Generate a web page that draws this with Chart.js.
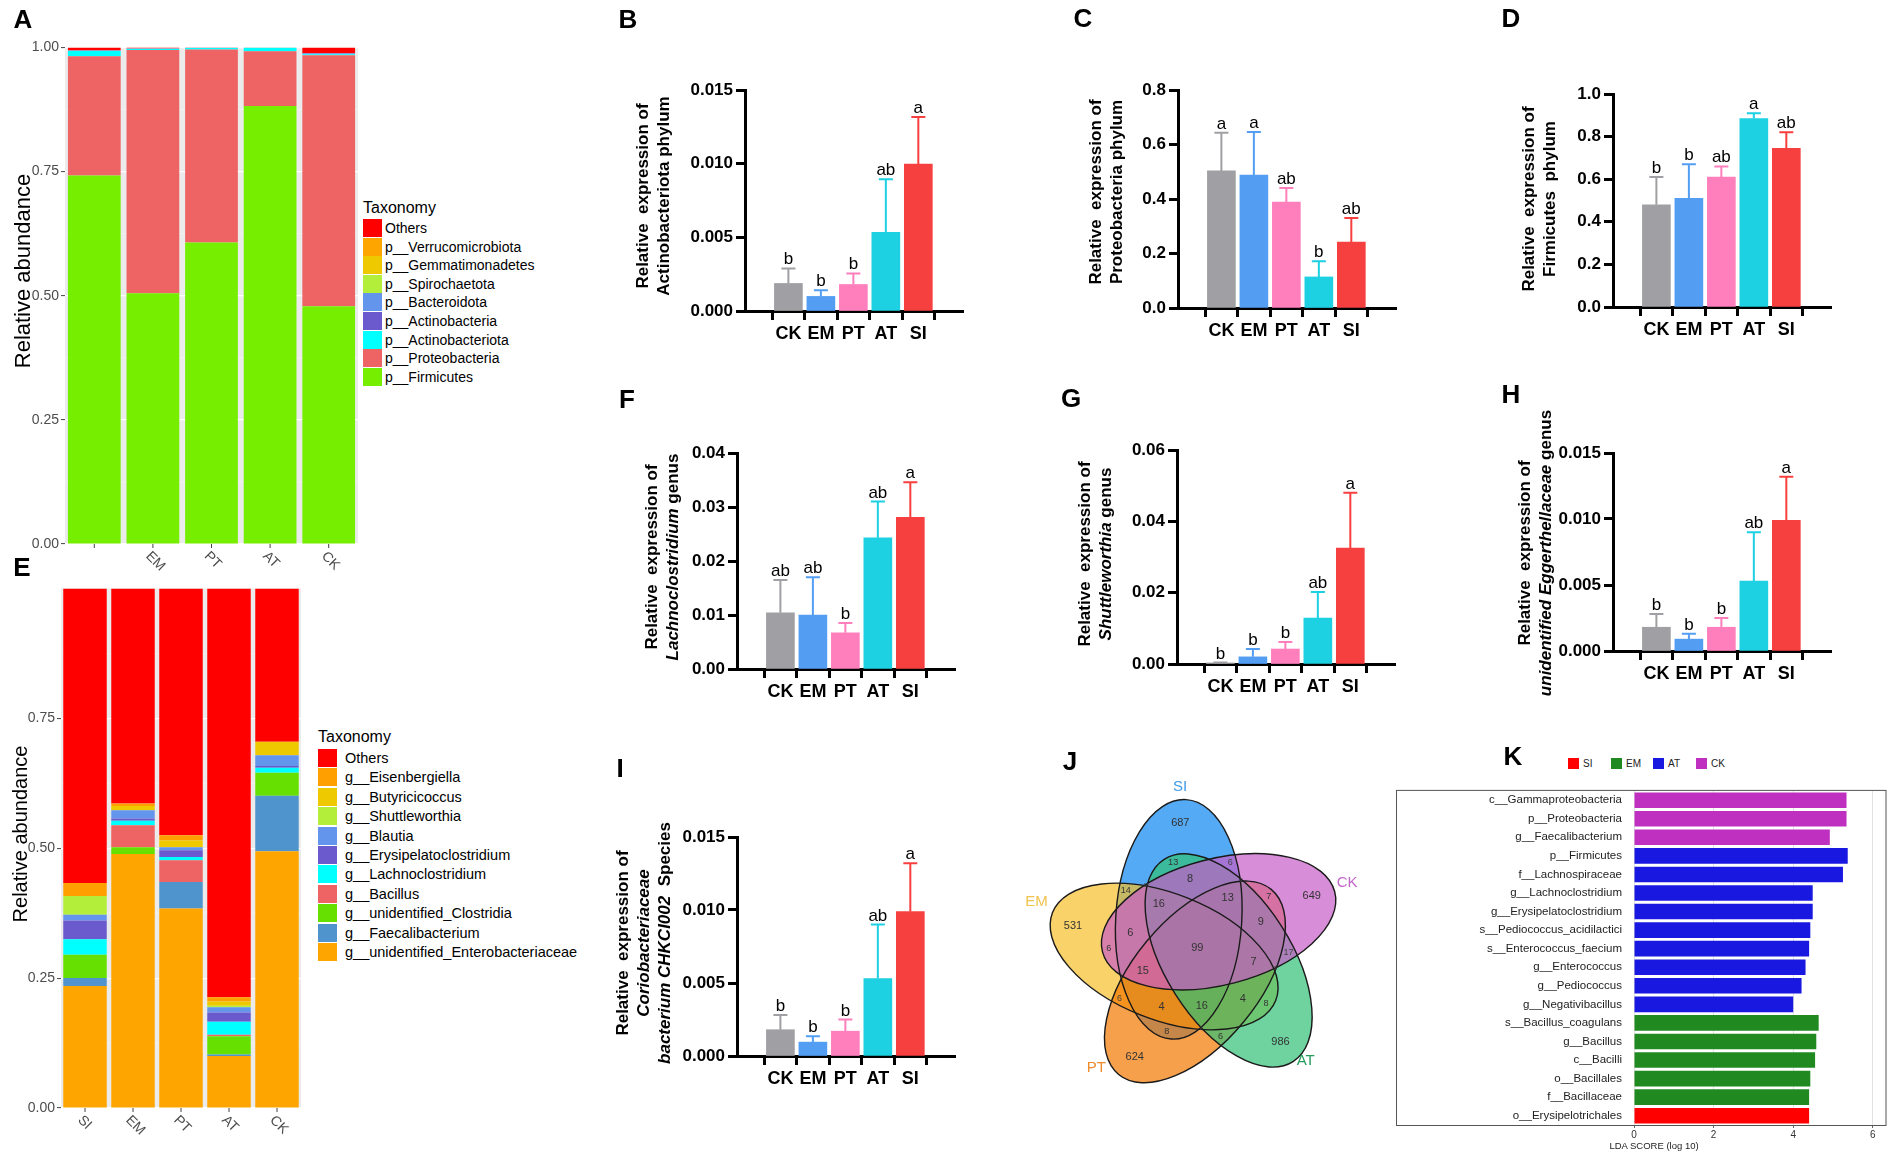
<!DOCTYPE html>
<html><head><meta charset="utf-8">
<script src="https://cdn.jsdelivr.net/npm/chart.js@4.4.1/dist/chart.umd.min.js"></script>
<style>
html,body{margin:0;padding:0;background:#fff;}
body{width:1902px;height:1159px;position:relative;overflow:hidden;font-family:"Liberation Sans",Arial,Helvetica,sans-serif;color:#000;}
canvas{position:absolute;}
.plab{position:absolute;font-weight:bold;font-size:26px;transform:translate(-50%,-50%);line-height:1;}
.ytitle{position:absolute;transform:translate(-50%,-50%) rotate(-90deg);font-weight:bold;font-size:17px;text-align:center;line-height:21px;white-space:pre;}
.yab{position:absolute;transform:translate(-50%,-50%) rotate(-90deg);white-space:pre;line-height:1;}
.sw{position:absolute;}
.lt{position:absolute;transform:translateY(-50%);white-space:pre;line-height:1;}
</style></head><body>
<script>
// ---------------- DATA ----------------
const groups = ['CK','EM','PT','AT','SI'];
const groupColors = ['#a0a0a4','#539ef3','#ff7fbd','#1dd0e2','#f6403f'];

// B Actinobacteriota
const actinoMean = [0.00187,0.00099,0.00180,0.00534,0.00997];
const actinoErr  = [0.00102,0.00041,0.00075,0.00360,0.00320];
const actinoSig  = ['b','b','b','ab','a'];
const actinoTicks = [0,0.005,0.010,0.015];
const actinoTickLabels = ['0.000','0.005','0.010','0.015'];
// C Proteobacteria
const proteoMean = [0.503,0.488,0.389,0.114,0.242];
const proteoErr  = [0.140,0.158,0.051,0.058,0.088];
const proteoSig  = ['a','a','ab','b','ab'];
const proteoTicks = [0,0.2,0.4,0.6,0.8];
const proteoTickLabels = ['0.0','0.2','0.4','0.6','0.8'];
// D Firmicutes
const firmiMean = [0.48,0.51,0.61,0.885,0.745];
const firmiErr  = [0.13,0.16,0.05,0.025,0.075];
const firmiSig  = ['b','b','ab','a','ab'];
const firmiTicks = [0,0.2,0.4,0.6,0.8,1.0];
const firmiTickLabels = ['0.0','0.2','0.4','0.6','0.8','1.0'];
// F Lachnoclostridium
const lachMean = [0.0104,0.0100,0.0067,0.0243,0.0281];
const lachErr  = [0.0061,0.0070,0.0018,0.0067,0.0065];
const lachSig  = ['ab','ab','b','ab','a'];
const lachTicks = [0,0.01,0.02,0.03,0.04];
const lachTickLabels = ['0.00','0.01','0.02','0.03','0.04'];
// G Shuttleworthia
const shutMean = [0.0003,0.0020,0.0042,0.0129,0.0325];
const shutErr  = [0.0001,0.0022,0.0020,0.0073,0.0155];
const shutSig  = ['b','b','b','ab','a'];
const shutTicks = [0,0.02,0.04,0.06];
const shutTickLabels = ['0.00','0.02','0.04','0.06'];
// H unidentified Eggerthellaceae
const eggMean = [0.0018,0.0009,0.0018,0.0053,0.0099];
const eggErr  = [0.0010,0.0004,0.0007,0.0037,0.0033];
const eggSig  = ['b','b','b','ab','a'];
const eggTicks = [0,0.005,0.010,0.015];
const eggTickLabels = ['0.000','0.005','0.010','0.015'];
// I Coriobacteriaceae bacterium CHKCI002
const corioMean = [0.0018,0.00095,0.0017,0.0053,0.0099];
const corioErr  = [0.0010,0.0004,0.0008,0.0037,0.0033];
const corioSig  = ['b','b','b','ab','a'];
const corioTicks = [0,0.005,0.010,0.015];
const corioTickLabels = ['0.000','0.005','0.010','0.015'];

// A phylum stacked (order SI, EM, PT, AT, CK), bottom -> top
const stackGroups = ['SI','EM','PT','AT','CK'];
const phylumNames = ['p__Firmicutes','p__Proteobacteria','p__Actinobacteriota','p__Actinobacteria','p__Bacteroidota','p__Spirochaetota','p__Gemmatimonadetes','p__Verrucomicrobiota','Others'];
const phylumColors = ['#76ee00','#ee6363','#00ffff','#6a5acd','#6495ed','#b3ee3a','#eec900','#ffa500','#ff0000'];
const phylumFirmicutes      = [0.742,0.505,0.607,0.882,0.479];
const phylumProteobacteria  = [0.240,0.490,0.389,0.110,0.505];
const phylumActinobacteriota= [0.011,0.002,0.003,0.0075,0.002];
const phylumActinobacteria  = [0.0005,0.0005,0.0005,0.0003,0.001];
const phylumBacteroidota    = [0.0005,0.0005,0.0003,0.0002,0.001];
const phylumSpirochaetota   = [0.0001,0.0001,0.0001,0.0001,0.0001];
const phylumGemmatimonadetes= [0.0001,0.0001,0.0001,0.0001,0.0001];
const phylumVerrucomicrobiota=[0.0001,0.0001,0.0001,0.0001,0.0001];
const phylumOthers          = [0.0057,0.0017,0.0001,0.0000,0.0117];

// E genus stacked, bottom -> top
const genusNames = ['g__unidentified_Enterobacteriaceae','g__Faecalibacterium','g__unidentified_Clostridia','g__Bacillus','g__Lachnoclostridium','g__Erysipelatoclostridium','g__Blautia','g__Shuttleworthia','g__Butyricicoccus','g__Eisenbergiella','Others'];
const genusColors = ['#ffa500','#4f94cd','#66e000','#ee6363','#00ffff','#6a5acd','#6495ed','#b3ee3a','#eec900','#ffa000','#ff0000'];
const genusEntero     = [0.235,0.489,0.384,0.100,0.494];
const genusFaecali    = [0.015,0.000,0.051,0.003,0.107];
const genusClostridia = [0.045,0.013,0.000,0.035,0.044];
const genusBacillus   = [0.000,0.042,0.042,0.003,0.000];
const genusLachno     = [0.030,0.009,0.006,0.025,0.010];
const genusErysip     = [0.036,0.004,0.013,0.018,0.003];
const genusBlautia    = [0.011,0.016,0.006,0.010,0.021];
const genusShuttle    = [0.036,0.000,0.000,0.003,0.000];
const genusButyr      = [0.000,0.008,0.013,0.008,0.026];
const genusEisen      = [0.025,0.005,0.010,0.008,0.000];
const genusOthers     = [0.567,0.414,0.475,0.787,0.295];
const abTicks = [0,0.25,0.5,0.75,1.0];
const abTickLabels = ['0.00','0.25','0.50','0.75','1.00'];

// J Venn
const vennSets = ['SI','CK','AT','PT','EM'];
const vennFill = ['#0c86f1','#c85cc7','#31c076','#f47700','#f6bf2a'];
const vennText = ['#3d9be9','#c266c9','#259c5b','#f08a2b','#f0c24e'];
const vennRegions = [
 {sets:['SI'],n:687},{sets:['CK'],n:649},{sets:['AT'],n:986},{sets:['PT'],n:624},{sets:['EM'],n:531},
 {sets:['SI','CK','AT','PT','EM'],n:99},
 {sets:['SI','CK'],n:6},{sets:['CK','AT'],n:17},{sets:['AT','PT'],n:6},{sets:['PT','EM'],n:6},{sets:['EM','SI'],n:14},
 {sets:['SI','AT'],n:13},{sets:['CK','PT'],n:7},{sets:['AT','EM'],n:8},{sets:['PT','SI'],n:8},{sets:['EM','CK'],n:6},
 {sets:['SI','AT','EM'],n:18},{sets:['CK','PT','SI'],n:2},{sets:['AT','EM','CK'],n:2},{sets:['PT','SI','AT'],n:2},{sets:['EM','CK','PT'],n:1},
 {sets:['SI','CK','AT'],n:8},{sets:['CK','AT','PT'],n:9},{sets:['AT','PT','EM'],n:4},{sets:['PT','EM','SI'],n:4},{sets:['EM','SI','CK'],n:6},
 {sets:['SI','CK','AT','PT'],n:13},{sets:['CK','AT','PT','EM'],n:7},{sets:['AT','PT','EM','SI'],n:16},{sets:['PT','EM','SI','CK'],n:15},{sets:['EM','SI','CK','AT'],n:16}
];

// K LDA
const ldaTaxa = ['c__Gammaproteobacteria','p__Proteobacteria','g__Faecalibacterium','p__Firmicutes','f__Lachnospiraceae','g__Lachnoclostridium','g__Erysipelatoclostridium','s__Pediococcus_acidilactici','s__Enterococcus_faecium','g__Enterococcus','g__Pediococcus','g__Negativibacillus','s__Bacillus_coagulans','g__Bacillus','c__Bacilli','o__Bacillales','f__Bacillaceae','o__Erysipelotrichales'];
const ldaScores = [5.34,5.34,4.92,5.37,5.25,4.49,4.49,4.43,4.40,4.31,4.21,4.00,4.64,4.58,4.55,4.43,4.40,4.40];
const ldaGroups = ['CK','CK','CK','AT','AT','AT','AT','AT','AT','AT','AT','AT','EM','EM','EM','EM','EM','SI'];
const ldaLegend = ['SI','EM','AT','CK'];
const ldaColors = {SI:'#ff0000',EM:'#208a20',AT:'#1818e0',CK:'#c030c0'};
const ldaTicks = [0,2,4,6];

// ---------------- SETUP ----------------
const FF = '"Liberation Sans", Arial, Helvetica, sans-serif';
Chart.defaults.font.family = FF;
Chart.defaults.animation = false;
Chart.defaults.responsive = false;
Chart.defaults.maintainAspectRatio = false;
Chart.defaults.plugins.legend.display = false;
Chart.defaults.plugins.tooltip.enabled = false;

function mkCanvas(left, top, w, h){
  const c = document.createElement('canvas');
  c.width = Math.round(w); c.height = Math.round(h);
  c.style.left = left+'px'; c.style.top = top+'px';
  c.style.width = Math.round(w)+'px'; c.style.height = Math.round(h)+'px';
  document.body.appendChild(c); return c;
}
function addDiv(cls, html, x, y, style){
  const d = document.createElement('div'); d.className = cls; d.innerHTML = html;
  d.style.left = x+'px'; d.style.top = y+'px';
  if (style) Object.assign(d.style, style);
  document.body.appendChild(d); return d;
}

// ---------------- PRISM BAR PANELS ----------------
const YW=84, XH=44, PADT=14, PADR=12, AXLEN=218, XOFF=27, XPITCH=40.6;
function prism(p){
  const h = p.zeroPx - p.topPx;
  const c = mkCanvas(p.axisX - YW, p.topPx - PADT, YW + AXLEN + PADR, PADT + h + XH);
  const axGrid = {display:true, drawOnChartArea:false, drawTicks:true, tickLength:9, tickWidth:3, tickColor:'#000'};
  new Chart(c, {
    type:'bar',
    data:{datasets:[{data:p.mean.map((v,i)=>({x:i,y:v})), backgroundColor:groupColors, barThickness:28, borderWidth:0}]},
    options:{
      layout:{padding:{top:PADT,right:PADR,left:0,bottom:0}},
      scales:{
        x:{type:'linear', min:-XOFF/XPITCH, max:(AXLEN-XOFF)/XPITCH,
           afterBuildTicks:s=>{ s.ticks = groups.map((g,i)=>({value:i})); },
           afterFit:s=>{ s.height = XH; },
           ticks:{callback:v=>groups[v], font:{size:18,weight:'bold'}, color:'#000', padding:3, maxRotation:0, autoSkip:false},
           grid:axGrid, border:{display:true,width:3,color:'#000'}},
        y:{type:'linear', min:0, max:p.ticks[p.ticks.length-1],
           afterBuildTicks:s=>{ s.ticks = p.ticks.map(v=>({value:v})); },
           afterFit:s=>{ s.width = YW; },
           ticks:{callback:(v,i)=>p.tickLabels[i], font:{size:17,weight:'bold'}, color:'#000', padding:3},
           grid:axGrid, border:{display:true,width:3,color:'#000'}}
      }
    },
    plugins:[{
      id:'err',
      afterDatasetsDraw(ch){
        const ctx=ch.ctx, xs=ch.scales.x, ys=ch.scales.y;
        ctx.save();
        p.mean.forEach((m,i)=>{
          const x=xs.getPixelForValue(i), yb=ys.getPixelForValue(m), yt=ys.getPixelForValue(m+p.err[i]);
          ctx.strokeStyle=groupColors[i]; ctx.lineWidth=2;
          ctx.beginPath(); ctx.moveTo(x,yb); ctx.lineTo(x,yt); ctx.moveTo(x-7,yt); ctx.lineTo(x+7,yt); ctx.stroke();
          ctx.fillStyle='#000'; ctx.font='17px '+FF; ctx.textAlign='center'; ctx.textBaseline='alphabetic';
          ctx.fillText(p.sig[i], x, yt-4);
        });
        ctx.restore();
      }
    }]
  });
  addDiv('ytitle', p.title.join('\n'), p.titleX, p.titleY);
}

prism({axisX:745, topPx:90, zeroPx:310.5, mean:actinoMean, err:actinoErr, sig:actinoSig, ticks:actinoTicks, tickLabels:actinoTickLabels,
  title:['Relative  expression of','Actinobacteriota phylum'], titleX:653, titleY:196});
prism({axisX:1178, topPx:90, zeroPx:308, mean:proteoMean, err:proteoErr, sig:proteoSig, ticks:proteoTicks, tickLabels:proteoTickLabels,
  title:['Relative  expression of','Proteobacteria phylum'], titleX:1106, titleY:192});
prism({axisX:1613, topPx:94, zeroPx:307, mean:firmiMean, err:firmiErr, sig:firmiSig, ticks:firmiTicks, tickLabels:firmiTickLabels,
  title:['Relative  expression of','Firmicutes  phylum'], titleX:1539, titleY:199});
prism({axisX:737, topPx:453, zeroPx:669, mean:lachMean, err:lachErr, sig:lachSig, ticks:lachTicks, tickLabels:lachTickLabels,
  title:['Relative  expression of','<i>Lachnoclostridium</i> genus'], titleX:662, titleY:557});
prism({axisX:1177, topPx:450, zeroPx:664, mean:shutMean, err:shutErr, sig:shutSig, ticks:shutTicks, tickLabels:shutTickLabels,
  title:['Relative  expression of','<i>Shuttleworthia</i> genus'], titleX:1095, titleY:554});
prism({axisX:1613, topPx:453, zeroPx:651, mean:eggMean, err:eggErr, sig:eggSig, ticks:eggTicks, tickLabels:eggTickLabels,
  title:['Relative  expression of','<i>unidentified Eggerthellaceae</i> genus'], titleX:1535, titleY:553});
prism({axisX:737, topPx:837, zeroPx:1056, mean:corioMean, err:corioErr, sig:corioSig, ticks:corioTicks, tickLabels:corioTickLabels,
  title:['Relative  expression of','<i>Coriobacteriaceae</i>','<i>bacterium CHKCI002</i>  Species'], titleX:643, titleY:943});

// ---------------- STACKED PANELS (A, E) ----------------
function stacked(cfg){
  const YWs=56, PT=6, XHs=50, PR=4;
  const c = mkCanvas(cfg.left-YWs, cfg.top-PT, YWs+cfg.width+PR, PT+cfg.height+XHs);
  new Chart(c,{
    type:'bar',
    data:{labels:stackGroups, datasets:cfg.names.map((n,k)=>({label:n, data:cfg.values[k], backgroundColor:cfg.colors[k], borderWidth:0, categoryPercentage:1, barPercentage:cfg.bp}))},
    options:{
      layout:{padding:{top:PT,right:PR,left:0,bottom:0}},
      scales:{
        x:{stacked:true, ticks:{display:false}, grid:{display:false}, border:{display:false}, afterFit:s=>{s.height=XHs;}},
        y:{stacked:true, min:0, max:1,
           afterBuildTicks:s=>{ s.ticks = cfg.yticks.map(v=>({value:v})); },
           afterFit:s=>{ s.width=YWs; },
           ticks:{callback:(v,i)=>cfg.ylabels[i], font:{size:14}, color:'#4d4d4d', padding:2},
           grid:{color:'#ffffff', lineWidth:1.2, drawTicks:true, tickLength:4, tickColor:'#444', tickWidth:1}, border:{display:false}}
      }
    },
    plugins:[{
      id:'bg',
      beforeDraw(ch){
        const ctx=ch.ctx, ca=ch.chartArea, ys=ch.scales.y;
        ctx.save(); ctx.fillStyle='#ebebeb'; ctx.fillRect(ca.left, ca.top, ca.right-ca.left, ca.bottom-ca.top);
        ctx.strokeStyle='#f7f7f7'; ctx.lineWidth=0.6;
        [0.125,0.375,0.625,0.875].forEach(v=>{ const y=ys.getPixelForValue(v); ctx.beginPath(); ctx.moveTo(ca.left,y); ctx.lineTo(ca.right,y); ctx.stroke(); });
        ctx.restore();
      },
      afterDraw(ch){
        const ctx=ch.ctx, xs=ch.scales.x, ca=ch.chartArea;
        ctx.save(); ctx.font='14px '+FF; ctx.fillStyle='#4d4d4d'; ctx.textAlign='left'; ctx.textBaseline='middle';
        ctx.strokeStyle='#444'; ctx.lineWidth=1;
        stackGroups.forEach((g,i)=>{
          const x=xs.getPixelForValue(i);
          ctx.beginPath(); ctx.moveTo(x,ca.bottom); ctx.lineTo(x,ca.bottom+4); ctx.stroke();
          if (cfg.hideFirst && i===0) return;
          ctx.save(); ctx.translate(x-5, ca.bottom+10); ctx.rotate(Math.PI/4); ctx.fillText(g,0,0); ctx.restore();
        });
        ctx.restore();
      }
    }]
  });
}
stacked({left:64.5, top:43, width:293, height:501, bp:0.9,
  names:phylumNames, colors:phylumColors,
  values:[phylumFirmicutes,phylumProteobacteria,phylumActinobacteriota,phylumActinobacteria,phylumBacteroidota,phylumSpirochaetota,phylumGemmatimonadetes,phylumVerrucomicrobiota,phylumOthers],
  yticks:abTicks, ylabels:abTickLabels, hideFirst:true});
stacked({left:60.5, top:584, width:239.5, height:524, bp:0.906,
  names:genusNames, colors:genusColors,
  values:[genusEntero,genusFaecali,genusClostridia,genusBacillus,genusLachno,genusErysip,genusBlautia,genusShuttle,genusButyr,genusEisen,genusOthers],
  yticks:abTicks.slice(0,4), ylabels:abTickLabels.slice(0,4), hideFirst:false});

addDiv('yab','Relative abundance',23,271,{fontSize:'22px'});
addDiv('yab','Relative abundance',20,834,{fontSize:'20px'});

function legend(x, titleY, firstY, step, names, colors, fs, tx){
  addDiv('lt','Taxonomy',x,titleY,{fontSize:'16px'});
  names.slice().reverse().forEach((n,i)=>{
    const col = colors[colors.length-1-i];
    const y = firstY + i*step;
    addDiv('sw','',x,y-9,{width:'19px',height:'18px',background:col});
    addDiv('lt',n,tx,y,{fontSize:fs});
  });
}
legend(363,208,228,18.6,phylumNames,phylumColors,'14px',385);
legend(318,737,758,19.4,genusNames,genusColors,'14.5px',345);

// ---------------- VENN (J) ----------------
const VU = 149;                 // px per layout unit
const VC = {x:1197, y:948}, VHALF = 201;
const vD=0.228, vA=0.805, vB=0.423, vTilt=36, vBase=-122.5;
const vennDrawOrder = ['SI','EM','PT','AT','CK'];
const vennNamePolar = {SI:[-96,1.09], CK:[-23.6,1.10], AT:[46,1.05], PT:[130,1.05], EM:[-164,1.12]};
function ell(k){
  const ps=(vBase+72*k)*Math.PI/180, ph=ps+vTilt*Math.PI/180;
  return {cx:vD*Math.cos(ps), cy:vD*Math.sin(ps), ph, c:Math.cos(ph), s:Math.sin(ph)};
}
const ells = vennSets.map((s,k)=>ell(k));
const best = new Array(32).fill(null);
{
  const sd = new Float64Array(5);
  for (let x=-1.15; x<=1.15; x+=0.006){
    for (let y=-1.15; y<=1.15; y+=0.006){
      for (let k=0;k<5;k++){
        const e=ells[k];
        const dx=x-e.cx, dy=y-e.cy, u=dx*e.c+dy*e.s, v=-dx*e.s+dy*e.c;
        const f=u*u/(vA*vA)+v*v/(vB*vB);
        const g=2*Math.hypot(u/(vA*vA), v/(vB*vB));
        sd[k]=(1-f)/Math.max(g,1e-6);
      }
      for (let m=1;m<32;m++){
        let mg=1e9;
        for (let k=0;k<5;k++){ const s=((m>>k)&1)?sd[k]:-sd[k]; if(s<mg) mg=s; }
        if (!best[m] || mg>best[m].d) best[m]={x,y,d:mg};
      }
    }
  }
}
const vennPts = vennRegions.map(r=>{
  const m = r.sets.reduce((a,s)=>a|(1<<vennSets.indexOf(s)),0);
  const b = best[m];
  return {x:b.x, y:b.y, r:Math.max(0,b.d)};
});
{
  const c = mkCanvas(VC.x-VHALF, VC.y-VHALF, 2*VHALF, 2*VHALF);
  const lim = VHALF/VU;
  new Chart(c,{
    type:'scatter',
    data:{datasets:[{data:vennPts, pointRadius:0}]},
    options:{
      layout:{padding:0},
      scales:{x:{type:'linear',min:-lim,max:lim,display:false}, y:{type:'linear',min:-lim,max:lim,reverse:true,display:false}}
    },
    plugins:[{
      id:'venn',
      beforeDatasetsDraw(ch){
        const ctx=ch.ctx, xs=ch.scales.x, ys=ch.scales.y;
        const sx = xs.getPixelForValue(1)-xs.getPixelForValue(0);
        ctx.save();
        vennDrawOrder.forEach(name=>{
          const k=vennSets.indexOf(name), e=ells[k];
          ctx.beginPath();
          ctx.ellipse(xs.getPixelForValue(e.cx), ys.getPixelForValue(e.cy), vA*sx, vB*sx, e.ph, 0, Math.PI*2);
          ctx.globalAlpha=0.7; ctx.fillStyle=vennFill[k]; ctx.fill();
        });
        ctx.globalAlpha=1; ctx.strokeStyle='#1a1a1a'; ctx.lineWidth=1.4;
        ells.forEach(e=>{ ctx.beginPath(); ctx.ellipse(xs.getPixelForValue(e.cx), ys.getPixelForValue(e.cy), vA*sx, vB*sx, e.ph, 0, Math.PI*2); ctx.stroke(); });
        ctx.font='15px '+FF; ctx.textAlign='center'; ctx.textBaseline='middle';
        vennSets.forEach((s,k)=>{
          const [ang,rad]=vennNamePolar[s], t=ang*Math.PI/180;
          ctx.fillStyle=vennText[k];
          ctx.fillText(s, xs.getPixelForValue(rad*Math.cos(t)), ys.getPixelForValue(rad*Math.sin(t)));
        });
        ctx.restore();
      },
      afterDatasetsDraw(ch){
        const ctx=ch.ctx, meta=ch.getDatasetMeta(0);
        ctx.save(); ctx.textAlign='center'; ctx.textBaseline='middle';
        vennRegions.forEach((r,i)=>{
          const pt=meta.data[i]; const rp=vennPts[i].r*VU;
          const fs = rp<1.8 ? 5.2 : Math.max(5.5,Math.min(11,6.2+0.42*rp));
          ctx.font=fs.toFixed(1)+'px '+FF; ctx.fillStyle= fs>9 ? '#333' : '#444';
          ctx.fillText(String(r.n), pt.x, pt.y);
        });
        ctx.restore();
      }
    }]
  });
}

// ---------------- LDA (K) ----------------
{
  const left=1396, top=780, padT=7.5, YWk=238, plotW=252, XHk=22;
  const plotH = 337.5;
  const c = mkCanvas(left, top, YWk+plotW+6, padT+plotH+XHk);
  new Chart(c,{
    type:'bar',
    data:{labels:ldaTaxa, datasets:[{data:ldaScores, backgroundColor:ldaGroups.map(g=>ldaColors[g]), borderWidth:0, categoryPercentage:1, barPercentage:0.84}]},
    options:{
      indexAxis:'y',
      layout:{padding:{top:padT,right:6,left:0,bottom:0}},
      scales:{
        x:{type:'linear', min:0, max:plotW/39.8,
           afterBuildTicks:s=>{ s.ticks=ldaTicks.map(v=>({value:v})); },
           afterFit:s=>{ s.height=XHk; },
           ticks:{font:{size:10}, color:'#333', padding:1},
           grid:{color:'#e2e2e2', lineWidth:1, drawTicks:true, tickLength:3, tickColor:'#666'}, border:{display:false}},
        y:{afterFit:s=>{ s.width=YWk; },
           ticks:{font:{size:11.5}, color:'#222', padding:4, autoSkip:false},
           grid:{display:false}, border:{display:false}}
      }
    },
    plugins:[{
      id:'box',
      afterDraw(ch){
        const ctx=ch.ctx, ca=ch.chartArea, ys=ch.scales.y;
        ctx.save(); ctx.strokeStyle='#555'; ctx.lineWidth=1;
        ctx.strokeRect(ys.left+0.5, ca.top-0.5, ca.right-ys.left-0.5, ca.bottom-ca.top+1);
        ctx.restore();
      }
    }]
  });
  addDiv('lt','LDA SCORE (log 10)',1654,1146,{fontSize:'9.5px',transform:'translate(-50%,-50%)',color:'#222'});
  const lx=[1568,1611,1653,1696];
  ldaLegend.forEach((g,i)=>{
    addDiv('sw','',lx[i],758,{width:'11px',height:'11px',background:ldaColors[g]});
    addDiv('lt',g,lx[i]+15,764,{fontSize:'10px',color:'#222'});
  });
}

// ---------------- PANEL LETTERS ----------------
[['A',23,19],['B',628,19],['C',1083,18],['D',1511,18],['E',22,567],['F',627,399],['G',1071,398],['H',1511,394],['I',620,768],['J',1070,761],['K',1513,756]]
 .forEach(([t,x,y])=>addDiv('plab',t,x,y));
</script>
</body></html>
